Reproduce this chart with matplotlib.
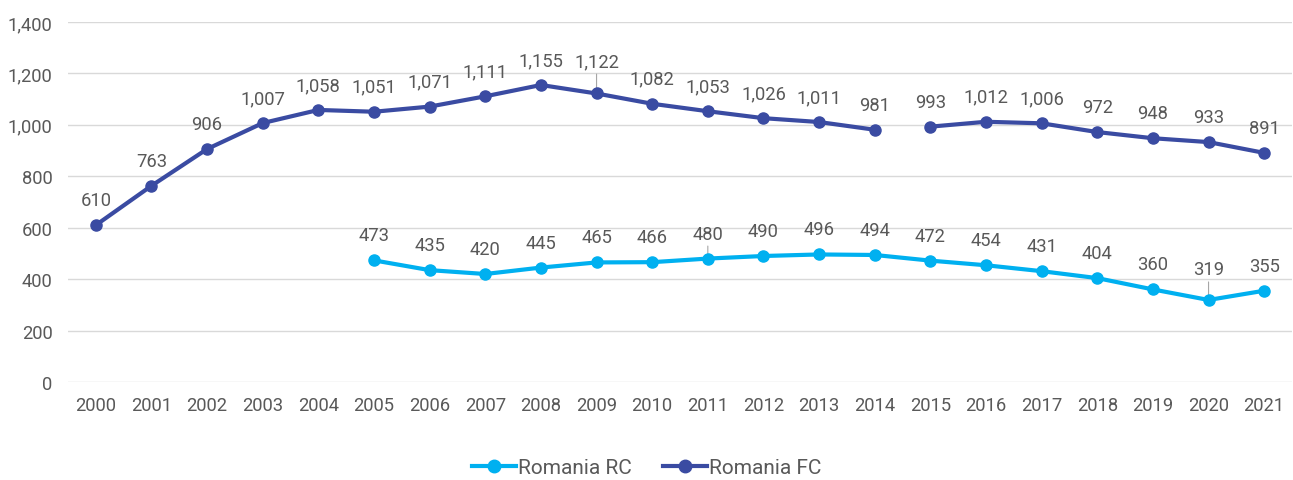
import matplotlib
matplotlib.use("Agg")
import matplotlib.pyplot as plt
from matplotlib.lines import Line2D
import numpy as np

years = [str(y) for y in range(2000, 2022)]
fc_values = [610, 763, 906, 1007, 1058, 1051, 1071, 1111, 1155, 1122, 1082,
             1053, 1026, 1011, 981, 993, 1012, 1006, 972, 948, 933, 891]
rc_years = [str(y) for y in range(2005, 2022)]
rc_values = [473, 435, 420, 445, 465, 466, 480, 490, 496, 494, 472, 454,
             431, 404, 360, 319, 355]
fc_break_after = "2014"
yticks = [0, 200, 400, 600, 800, 1000, 1200, 1400]

plt.rcParams['font.family'] = ['Roboto', 'DejaVu Sans']
TXT = '#595959'
FC_COL = '#3A4BA2'
RC_COL = '#00B0F0'
FS = 13.2

fig = plt.figure(figsize=(12.93, 4.81), dpi=100)
W, H = 1293, 481
ax = fig.add_axes([68 / W, (H - 383) / H, (1292 - 68) / W, (383 - 23) / H])

xi = {y: i for i, y in enumerate(years)}
fc_x = np.arange(len(years))
b = xi[fc_break_after] + 1

lw = 3.0
ms = 8
ax.plot(fc_x[:b], fc_values[:b], color=FC_COL, lw=lw, marker='o', ms=ms, zorder=3)
ax.plot(fc_x[b:], fc_values[b:], color=FC_COL, lw=lw, marker='o', ms=ms, zorder=3)
rc_x = [xi[y] for y in rc_years]
ax.plot(rc_x, rc_values, color=RC_COL, lw=lw, marker='o', ms=ms, zorder=3)

def fmt(v):
    return f"{v:,}"

special = {("FC", "2009"): 23, ("RC", "2011"): 18, ("RC", "2020"): 22}
def label(series, xs, vals, ylist):
    for x, v, yr in zip(xs, vals, ylist):
        off = 18
        key = (series, yr)
        if key in special:
            off = special[key]
        ax.annotate(fmt(v), (x, v), xytext=(0, off), textcoords='offset points',
                    ha='center', va='center', fontsize=FS, color=TXT, zorder=4)
        if key in special:
            ax.annotate('', (x, v), xytext=(0, off - 9), textcoords='offset points',
                        arrowprops=dict(arrowstyle='-', color='#A6A6A6', lw=0.8,
                                        shrinkA=0, shrinkB=3), zorder=2)

label("FC", fc_x, fc_values, years)
label("RC", rc_x, rc_values, rc_years)

ax.set_xlim(-0.5, len(years) - 0.5)
ax.set_ylim(0, 1400)
ax.set_yticks(yticks)
ax.set_yticklabels([fmt(v) for v in yticks])
ax.set_xticks(fc_x)
ax.set_xticklabels(years)
ax.tick_params(axis='both', length=0, labelsize=FS, labelcolor=TXT)
ax.tick_params(axis='y', pad=11)
ax.tick_params(axis='x', pad=10)
ax.grid(axis='y', color='#D9D9D9', lw=1)
ax.set_axisbelow(True)
for s in ax.spines.values():
    s.set_visible(False)

handles = [Line2D([], [], color=RC_COL, lw=lw, marker='o', ms=9),
           Line2D([], [], color=FC_COL, lw=lw, marker='o', ms=9)]
fig.legend(handles, ['Romania RC', 'Romania FC'], loc='center',
           bbox_to_anchor=(0.5, (H - 469) / H), ncol=2, frameon=False,
           fontsize=15, labelcolor=TXT, handlelength=2.1, handletextpad=0.1,
           columnspacing=1.5)

fig.savefig('out.png', dpi=100)
